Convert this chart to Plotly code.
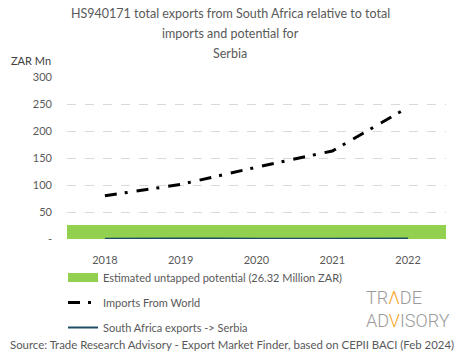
import plotly.graph_objects as go

years = ["2018", "2019", "2020", "2021", "2022"]
imports_world = [80, 101, 133, 163, 244]
sa_exports = [0.3, 1.0, 0.4, 0.3, 0.8]
untapped = [26.32, 26.32, 26.32, 26.32, 26.32]
ytick_vals = [0, 50, 100, 150, 200, 250, 300]
ytick_text = ["-", "50", "100", "150", "200", "250", "300"]

FONT = "Lato"
GREY = "#595959"
GREEN = "#92D050"
NAVY = "#1d4e64"

fig = go.Figure()
fig.add_trace(go.Bar(x=years, y=untapped, marker=dict(color=GREEN, line=dict(width=0)),
                     showlegend=False, hoverinfo="skip"))
fig.add_trace(go.Scatter(x=[None], y=[None], mode="lines", line=dict(color=GREEN, width=9),
                         name="Estimated untapped potential (26.32 Million ZAR)", legendgroup="a"))
fig.add_trace(go.Scatter(x=years, y=imports_world, mode="lines",
                         line=dict(color="black", width=3, dash="12px,8px,3px,9px"),
                         name="Imports From World", legendgroup="b", cliponaxis=False))
fig.add_trace(go.Scatter(x=years, y=sa_exports, mode="lines", line=dict(color=NAVY, width=2, shape="spline"),
                         name="South Africa exports -> Serbia", legendgroup="c", cliponaxis=False))

L, R, T, B = 67, 465 - 446, 77, 359 - 239
fig.update_layout(
    width=465, height=359, margin=dict(l=L, r=R, t=T, b=B, pad=0, autoexpand=False),
    paper_bgcolor="white", plot_bgcolor="white",
    font=dict(family=FONT, color=GREY, size=11),
    bargap=0,
    showlegend=True,
    legend=dict(xref="container", yref="container", x=63 / 465, y=1 - 263 / 359,
                xanchor="left", yanchor="top", orientation="v",
                tracegroupgap=6, font=dict(size=11, color=GREY), bgcolor="rgba(0,0,0,0)",
                itemwidth=30),
    xaxis=dict(type="category", range=[-0.5, 4.5], showgrid=False, showline=False, zeroline=False,
               ticks="", tickfont=dict(size=11, color=GREY), ticklabelstandoff=13),
    yaxis=dict(range=[0, 300], tickvals=ytick_vals, ticktext=ytick_text, showgrid=True,
               gridcolor="#d9d9d9", griddash="dash", gridwidth=1, zeroline=False, showline=False,
               ticks="", tickfont=dict(size=11, color=GREY), ticklabelstandoff=14),
)

title_lines = ["HS940171 total exports from South Africa relative to total",
               "imports and potential for", "Serbia"]
for i, t in enumerate(title_lines):
    fig.add_annotation(text=t, xref="paper", yref="paper", x=(230 - L) / 379, xanchor="center",
                       y=1 + (T - (13 + 20 * i)) / 162, yanchor="middle", showarrow=False,
                       font=dict(size=12.5, color=GREY, family=FONT))

fig.add_annotation(text="ZAR Mn", xref="paper", yref="paper", x=(9 - L) / 379, xanchor="left",
                   y=1 + (T - 60) / 162, yanchor="middle", showarrow=False,
                   font=dict(size=11, color="#404040", family=FONT))

fig.add_annotation(text="Source: Trade Research Advisory - Export Market Finder, based on CEPII BACI (Feb 2024)",
                   xref="paper", yref="paper", x=(232 - L) / 379, xanchor="center",
                   y=1 - (344 - T) / 162, yanchor="middle", showarrow=False,
                   font=dict(size=11.4, color=GREY, family=FONT))

ORANGE = "#F5A623"
LOGO = "#9a9a9a"
fig.add_annotation(text=f"TR<span style='color:{ORANGE}'>Λ</span>DE<br>AD<span style='color:{ORANGE}'>V</span>ISORY",
                   xref="paper", yref="paper", align="left",
                   x=(364 - L) / 379, xanchor="left", y=1 - (309 - T) / 162, yanchor="middle",
                   showarrow=False, font=dict(size=18, color=LOGO, family="Roboto", weight=300))

fig.write_html("out.html", config={"displayModeBar": False},
               post_script="document.body.style.margin='0';document.body.style.padding='0';")
